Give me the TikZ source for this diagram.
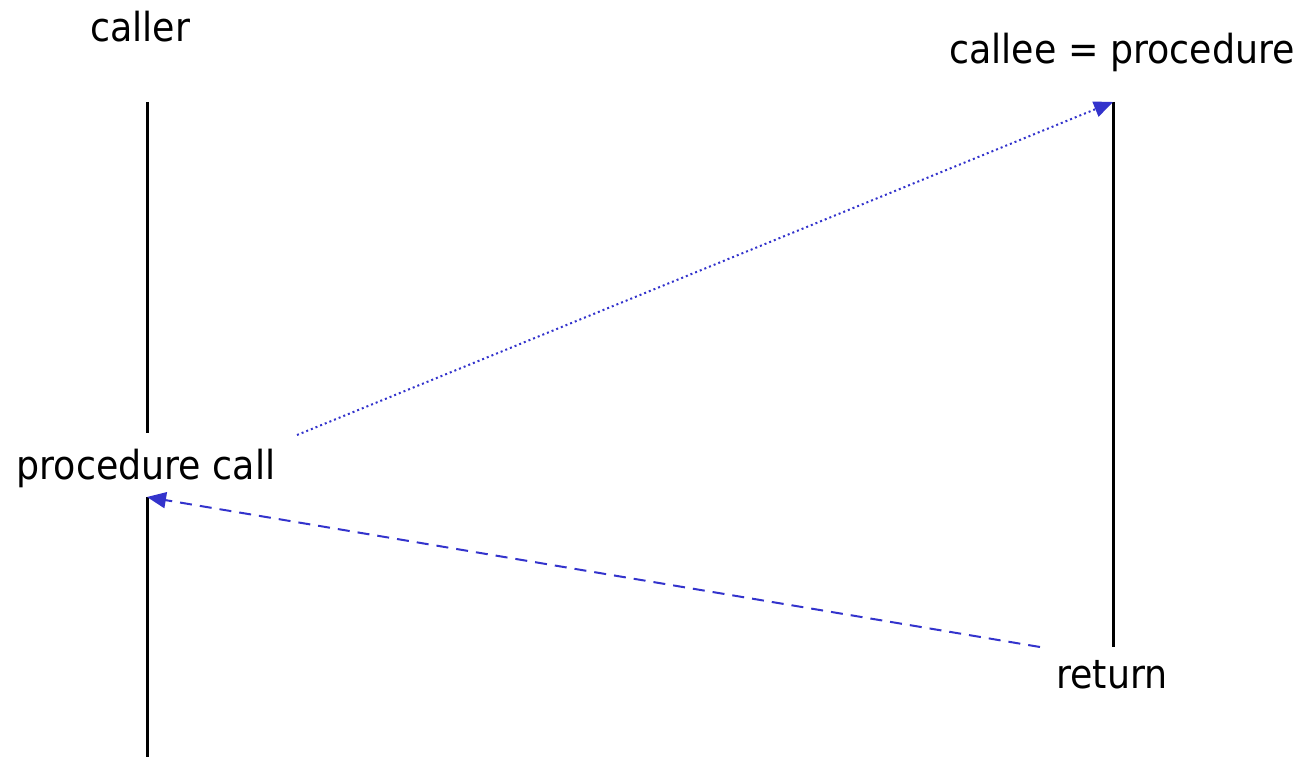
\documentclass[tikz,border=0pt]{standalone}
\usepackage{fontspec}
\setmainfont{DejaVu Sans}[FakeStretch=0.91]
\usetikzlibrary{arrows.meta}
\definecolor{msgblue}{RGB}{51,51,204}
\begin{document}
\begin{tikzpicture}[x=1pt,y=-1pt,
  lbl/.style={font=\fontsize{40}{45}\selectfont, anchor=base, inner sep=0pt},
  lifeline/.style={line width=3pt, black},
  callmsg/.style={line width=2pt, msgblue, dash pattern=on 2pt off 3pt, -{Triangle[length=19pt,width=16pt]}},
  retmsg/.style={line width=2pt, msgblue, dash pattern=on 12pt off 8pt, -{Triangle[length=19pt,width=16pt]}}]
\useasboundingbox (0,0) rectangle (1312,757);
\node[lbl] (caller) at (140,42) {caller};
\node[lbl] (callee) at (1122,64) {callee = procedure};
\node[lbl] (pcall) at (146,479) {procedure call};
\node[lbl] (ret) at (1112,688) {return};
\coordinate (lA) at (147,102);
\coordinate (lB) at (147,433);
\coordinate (lC) at (147,497);
\coordinate (lD) at (147,757);
\coordinate (rA) at (1113,102);
\coordinate (rB) at (1113,647);
\coordinate (cs) at (297,435);
\coordinate (rs) at (1040,647);
\draw[lifeline] (lA) -- (lB);
\draw[lifeline] (lC) -- (lD);
\draw[lifeline] (rA) -- (rB);
\draw[callmsg] (cs) -- (rA);
\draw[retmsg] (rs) -- (lC);
\end{tikzpicture}
\end{document}
